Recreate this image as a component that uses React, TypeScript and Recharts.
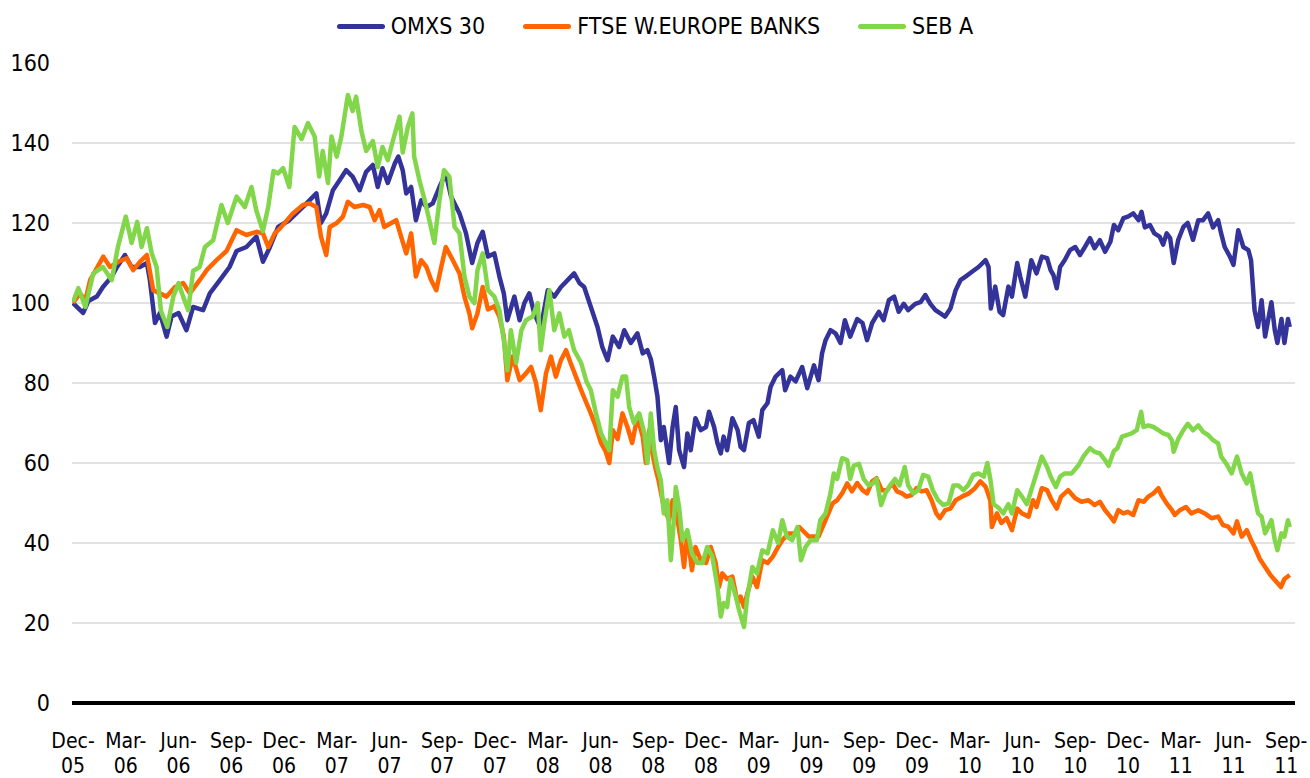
import React from 'react';
import { LineChart, Line, XAxis, YAxis, ReferenceLine } from 'recharts';

// months since Dec-05 (t) and index value (Dec-05 = 100)
const omxs30: [number, number][] = [
  [0,100],[0.57,97.5],[0.87,100.5],[1.35,101.6],[1.7,104],[2.2,106.6],[2.5,109],[2.95,112],[3.33,109],[3.8,109],[4.2,110],[4.37,105.7],[4.66,95],[4.94,97.5],[5.32,91.6],[5.6,96.6],[6.0,97.5],[6.45,93.2],[6.83,99],[7.4,98.2],[7.78,102.4],[8.35,105.7],[8.9,109],[9.3,113],[9.86,114],[10.43,116.6],[10.8,110.3],[11.2,114],[11.66,119],
  [12.3,120.7],[12.7,122.4],[13.08,124],[13.46,125.7],[13.84,127.4],[14.1,120],[14.4,122.4],[14.78,128.2],[15.16,130.7],[15.53,133.2],[15.9,131.6],[16.3,128.2],[16.67,132.8],[17.05,134.5],[17.33,129],[17.6,133.7],[17.9,130],[18.3,134.9],[18.5,136.6],[18.75,133.2],[18.95,127.4],[19.23,129],[19.5,120.7],[19.8,125.7],[20.1,124],[20.46,124.9],[20.84,129],[21.2,132.4],[21.5,126.6],[21.98,122.4],[22.35,117.4],[22.7,110],[23.0,115],
  [23.3,117.8],[23.6,111.6],[23.96,112.4],[24.25,106.6],[24.5,102.4],[24.7,95.7],[25.1,101.6],[25.4,95.7],[25.67,100],[25.95,102.4],[26.23,97.4],[26.6,93.7],[27,103.2],[27.37,101.6],[27.75,104],[28.13,105.7],[28.5,107.4],[28.8,105],[29.07,104],[29.45,99],[29.83,94],[30.1,89],[30.4,85.7],[30.7,91.6],[31.06,89],[31.35,93.2],[31.72,90],[32.1,92.4],[32.4,87.4],[32.67,88.2],[32.86,86],
  [33.05,81.6],[33.24,76.6],[33.43,65.7],[33.6,69],[33.9,60],[34.1,69],[34.28,74],[34.47,63.2],[34.75,59],[34.94,67.4],[35.13,63.2],[35.4,71.2],[35.7,68.2],[36,69],[36.17,72.8],[36.46,69],[36.65,65],[36.84,62.4],[37,66.6],[37.2,63.2],[37.5,71.2],[37.8,68.2],[37.97,64],[38.16,63.2],[38.44,70],[38.7,70.7],[39,66.6],[39.2,73.2],[39.5,75],[39.67,79],[39.96,81.6],[40.34,83.2],[40.5,78.2],[40.8,81.6],[41.1,80.4],
  [41.3,82.4],[41.47,84],[41.76,78.7],[42.14,84.4],[42.4,80.7],[42.6,87.4],[42.8,90.7],[43.08,93.2],[43.37,92.4],[43.65,90],[43.9,95.7],[44.2,91.6],[44.6,96],[44.9,95],[45.16,90.7],[45.45,95],[45.83,97.8],[46.1,95.7],[46.4,100.7],[46.7,101.6],[46.96,97.8],[47.25,99.8],[47.5,98.2],[47.9,99.8],[48.2,100.2],[48.47,102],[48.76,99.8],[49.05,98.2],[49.33,97.4],[49.6,96.6],[49.9,98.6],[50.2,103.2],[50.47,105.7],[50.76,106.6],[51.13,107.8],[51.5,109],[51.9,110.7],[52.07,109],[52.2,98.6],[52.45,104.1],[52.7,97.8],[52.9,97],[53.2,104.1],[53.4,101.6],[53.7,110],[53.87,106.6],[54.16,101.6],
  [54.5,110.7],[54.8,107.4],[55.1,111.6],[55.4,111.2],[55.6,108.2],[55.76,107],[55.95,103.7],[56.14,109],[56.4,110.7],[56.7,113.2],[57,114],[57.27,112],[57.55,114],[57.84,116.2],[58.1,113.7],[58.4,115.7],[58.7,112.8],[59,115.3],[59.2,119.5],[59.45,118.2],[59.74,121.2],[60,121.6],[60.3,122.4],[60.6,120.7],[60.77,122.8],[60.96,118.9],[61.25,119.5],[61.5,117.4],[61.8,116.6],[62,114.6],[62.2,117.4],[62.4,116.2],[62.6,110],[62.86,115.8],[63.15,119],[63.4,120],[63.7,115.8],[64,120.7],[64.27,120.7],[64.56,122.4],[64.84,118.9],[65.13,120.7],[65.3,117.4],[65.5,114],[65.8,111.6],[66,109.5],[66.27,118.2],[66.56,114],[66.85,113.2],[67,110.7],[67.2,98.2],[67.4,94],[67.6,100.7],[67.8,91.6],[67.97,95.7],[68.16,100.2],[68.35,93.2],[68.5,90],[68.73,96],[68.9,90],[69.1,96],[69.2,94],
];

const ftseWEuropeBanks: [number, number][] = [
  [0,100],[0.4,102.4],[0.7,100.6],[0.97,105.7],[1.72,111.6],[2.1,109],[2.57,110.3],[3.05,111.2],[3.42,108.2],[3.8,110.3],[4.2,112],[4.56,103.2],[4.94,102.4],[5.32,101.6],[5.8,104],[6.26,105],[6.64,102.4],[7.2,105.7],[7.6,108.2],[8.16,110.7],[8.73,113],[9.3,118.2],[9.86,117],[10.43,117.8],[10.8,117.4],[11.1,114],[11.47,117.4],[11.76,118.6],
  [12.5,122.4],[13.08,124.5],[13.46,124.9],[13.84,124],[14.1,116.6],[14.4,112],[14.6,119],[15,120],[15.35,121.6],[15.63,125.3],[16,124],[16.5,124.5],[16.87,124],[17.15,120.7],[17.43,123.2],[17.7,119],[18.1,120],[18.38,120.7],[18.66,116.6],[18.95,112.4],[19.23,117.4],[19.5,106.6],[19.8,110.7],[20.1,109],[20.37,105.7],[20.66,103.2],[20.94,109],[21.2,114],[21.6,110.7],[21.98,107.4],[22.26,101.6],[22.54,97.4],[22.7,93.7],[23,97.4],
  [23.3,104],[23.6,98.4],[23.96,99.2],[24.25,96.6],[24.5,91.6],[24.7,80.7],[25,86.6],[25.4,80.7],[25.76,82.4],[26.05,84],[26.33,80],[26.6,73.2],[26.9,82.4],[27.18,86.6],[27.46,81.6],[27.75,85.7],[28.04,88.2],[28.3,85],[28.6,81.6],[28.9,78.2],[29.2,75],[29.45,72.4],[29.74,69],[30.03,65],[30.3,62.8],[30.5,60],[30.7,68.2],[30.97,66],[31.25,72.4],[31.53,69],[31.8,65],[32.1,71.6],[32.4,66.6],[32.58,60],[32.77,68.2],[32.95,62.4],
  [33.15,58.2],[33.3,55.7],[33.6,49],[33.9,45.7],[34.1,50.7],[34.38,45.7],[34.57,40.7],[34.75,34],[34.94,42.4],[35.2,33.2],[35.4,39],[35.7,35.7],[36,35],[36.27,39],[36.55,35],[36.74,29],[36.93,32.4],[37.2,31],[37.5,31.6],[37.8,25],[37.97,26.6],[38.16,24],[38.35,27.4],[38.64,31.6],[38.9,29],[39.2,35.7],[39.5,35],[39.8,36.6],[40.1,39],[40.34,40.7],[40.7,42.4],[41.1,42.4],
  [41.3,44],[41.85,41.6],[42.4,41.6],[42.8,45.7],[43.2,49.9],[43.46,50.7],[43.74,52.4],[44.03,54.9],[44.3,52.9],[44.6,55],[44.9,53.2],[45.16,52.4],[45.45,55.4],[45.7,56.2],[46,53.2],[46.3,53.2],[46.6,54.9],[46.86,52.9],[47.15,52.4],[47.4,51.6],[47.7,52],[47.97,53.7],[48.26,52.9],[48.55,53.2],[48.83,50.7],[49.1,47.4],[49.3,46.2],[49.6,48.2],[49.9,48.6],[50.2,50.7],[50.56,51.6],[50.94,52.4],[51.3,53.7],[51.6,55.4],[51.9,54.1],[52.17,50.7],[52.26,44],[52.55,47.4],[52.8,45],[53.1,46.2],[53.4,43.2],[53.7,48.6],[53.97,47.4],[54.35,46.6],
  [54.6,50.7],[54.8,49],[55.1,53.7],[55.4,53.2],[55.66,50.7],[55.95,48.6],[56.2,51.6],[56.6,53.2],[57,51.2],[57.36,50.3],[57.75,50.7],[58.1,49.5],[58.4,50.3],[58.7,48.2],[59,46.6],[59.2,45.4],[59.45,48.2],[59.74,47.4],[60,47.8],[60.3,47],[60.6,50.7],[60.9,50.3],[61.16,51.6],[61.45,52.4],[61.73,53.7],[61.9,52],[62.2,49.9],[62.5,48.2],[62.67,47],[62.95,48.2],[63.3,49],[63.6,47.4],[64,48.2],[64.37,47.4],[64.75,46.2],[65.13,46.6],[65.4,44.5],[65.7,44.1],[66,42.4],[66.2,45.4],[66.47,41.6],[66.76,43.2],[67,40.7],[67.2,39],[67.5,36],[67.8,34],[68.1,32],[68.4,30.5],[68.7,29],[68.9,31],[69.2,32],
];

const sebA: [number, number][] = [
  [0,100.3],[0.3,103.7],[0.7,99],[1.15,107.4],[1.7,109],[2.2,105.7],[2.55,114],[3.0,121.6],[3.33,115],[3.65,120.3],[3.9,114],[4.2,118.7],[4.47,112.5],[4.75,109],[5.0,98],[5.36,94],[5.7,101.6],[6.0,105],[6.26,101.6],[6.55,98.2],[6.83,108],[7.2,109],[7.5,114],[7.97,115.7],[8.44,124.5],[8.8,120],[9.3,126.6],[9.77,124],[10.15,129],[10.43,123],[10.8,118],[11.1,124],[11.4,133],[11.66,132.4],
  [11.95,133.7],[12.3,129],[12.6,144],[13,141],[13.36,145],[13.74,141.6],[14,131.6],[14.2,138],[14.5,130],[14.7,141.6],[15,136.6],[15.26,141.6],[15.63,152],[15.9,148],[16.1,151.6],[16.4,143],[16.67,138],[17.05,140.5],[17.33,134],[17.6,139],[17.9,135.7],[18.2,140.7],[18.57,146.6],[18.75,137.6],[19.04,144],[19.3,147.4],[19.4,136.6],[19.7,130.7],[20,125.7],[20.3,120],[20.55,115],[20.84,125.7],[21.1,133.2],[21.4,131.6],[21.7,119],[21.98,117.4],[22.26,106.6],[22.54,101.6],[22.83,100],[23,108.2],
  [23.3,112.4],[23.6,103.2],[23.96,101.6],[24.25,98.2],[24.5,90.7],[24.7,83.2],[24.9,93.2],[25.2,85],[25.5,93.2],[25.76,95.7],[26.14,96.6],[26.43,100],[26.6,88.2],[26.8,94.9],[27.09,103.2],[27.37,93.2],[27.66,97.4],[27.94,91.6],[28.2,93.2],[28.5,88.2],[28.9,85],[29.2,80.4],[29.45,78.2],[29.74,72.4],[30.03,67.4],[30.3,65],[30.5,63.2],[30.7,78.2],[30.97,76.6],[31.25,81.6],[31.45,81.6],[31.63,74],[31.9,70],[32.2,72.4],[32.5,67.4],[32.67,60],[32.86,72.4],[33.05,63.2],
  [33.24,58.7],[33.43,55.7],[33.6,47.4],[33.8,50.7],[34,35.7],[34.2,47.4],[34.28,54],[34.47,49],[34.66,40.7],[34.94,43.2],[35.2,37.4],[35.5,35],[35.8,35],[36.07,39],[36.36,36.6],[36.65,29],[36.84,21.6],[37,25],[37.2,24],[37.4,31],[37.7,26.6],[37.88,23.2],[38.16,19],[38.35,26.6],[38.64,34],[38.9,32.4],[39.2,38.2],[39.5,37.4],[39.8,43.2],[40.1,40],[40.34,45.7],[40.6,41.6],[40.9,40.7],[41.2,44],[41.4,35.7],[41.66,39],[41.95,40.7],
  [42.3,40.7],[42.5,45.7],[42.8,47.4],[43.08,52.4],[43.27,57.4],[43.46,56],[43.74,61.2],[44.03,60.7],[44.2,56],[44.4,59.3],[44.7,59.8],[44.97,56],[45.25,54.4],[45.5,54.9],[45.7,56],[45.96,49.5],[46.2,52.4],[46.47,54.4],[46.75,56],[47,54.4],[47.3,59],[47.5,54.4],[47.8,52.4],[48.07,53.2],[48.35,57],[48.64,56.6],[48.9,53.2],[49.2,50.7],[49.5,49.5],[49.8,49.9],[50.07,54.4],[50.35,54.4],[50.64,53.2],[50.9,54.4],[51.2,57],[51.5,57.4],[51.8,56.6],[52,60],[52.17,56],[52.36,49.7],[52.64,48.8],[52.9,47.4],[53.2,49.7],[53.4,47.4],[53.7,53.2],[53.97,51.6],[54.25,49.7],[54.5,53.2],
  [54.8,57.4],[55.1,61.6],[55.4,59],[55.6,56.6],[55.9,54],[56.14,56.6],[56.4,57.4],[56.8,57.4],[57.2,59.5],[57.46,61.6],[57.84,63.7],[58.1,62.8],[58.4,62.4],[58.7,60.7],[58.9,59.3],[59.2,63],[59.4,63.7],[59.66,66.6],[59.94,67],[60.2,67.4],[60.5,68.2],[60.75,72.8],[60.88,69],[61.16,69.4],[61.45,69],[61.73,68.2],[62,67.4],[62.3,67],[62.5,65.7],[62.6,62.8],[62.86,66],[63.15,68.2],[63.4,69.8],[63.7,68.2],[64,69.4],[64.27,67.8],[64.56,67],[64.84,65.7],[65.13,64.9],[65.3,61.6],[65.6,59.8],[65.9,57.4],[66.2,61.6],[66.47,57.4],[66.76,54.9],[66.95,57.4],[67.2,51.6],[67.4,47.4],[67.6,46.6],[67.8,42.4],[67.97,44],[68.16,45.7],[68.35,40.7],[68.5,38.2],[68.73,42.4],[68.9,41.6],[69.1,45.7],[69.2,44],
];

const quarterTicks = [0,3,6,9,12,15,18,21,24,27,30,33,36,39,42,45,48,51,54,57,60,63,66,69];
const quarterLabels = ['Dec-05','Mar-06','Jun-06','Sep-06','Dec-06','Mar-07','Jun-07','Sep-07','Dec-07','Mar-08','Jun-08','Sep-08','Dec-08','Mar-09','Jun-09','Sep-09','Dec-09','Mar-10','Jun-10','Sep-10','Dec-10','Mar-11','Jun-11','Sep-11'];
const yTicks = [0,20,40,60,80,100,120,140,160];
const gridValues = [20,40,60,80,100,120,140];

const seriesNames = ['OMXS 30', 'FTSE W.EUROPE BANKS', 'SEB A'];
const seriesColors = ['#333399', '#FF6600', '#82D64A'];
const seriesValues = [omxs30, ftseWEuropeBanks, sebA];

const FONT = '"Liberation Sans Narrow", "DejaVu Sans Condensed", "Liberation Sans", sans-serif';

const toRows = (pairs: [number, number][]) => pairs.map(([t, v]) => ({ t, v }));

const XTick = (props: any) => {
  const { x, y, payload } = props;
  const idx = quarterTicks.indexOf(payload.value);
  const label = idx >= 0 ? quarterLabels[idx] : '';
  const [m, yy] = label.split('-');
  return (
    <text textAnchor="middle" fontFamily={FONT} fontSize={21} fill="#000">
      <tspan x={x} y={y + 45}>{m}-</tspan>
      <tspan x={x} y={y + 70}>{yy}</tspan>
    </text>
  );
};

const YTick = (props: any) => {
  const { x, y, payload } = props;
  return (
    <text x={x} y={y} dy="0.36em" textAnchor="end" fontFamily={FONT} fontSize={23} fill="#000">
      {payload.value}
    </text>
  );
};

export default function App() {
  return (
    <div style={{ position: 'absolute', left: 0, top: 0, width: 1310, height: 778, background: '#fff' }}>
      <div
        style={{
          position: 'absolute', left: 0, top: 0, width: 1310, height: 52,
          display: 'flex', justifyContent: 'center', alignItems: 'center', gap: 38,
          fontFamily: FONT, fontSize: 23, color: '#000',
        }}
      >
        {seriesNames.map((n, i) => (
          <div key={n} style={{ display: 'flex', alignItems: 'center' }}>
            <div style={{ width: 48, height: 5, borderRadius: 2.5, background: seriesColors[i], marginRight: 6 }} />
            <span style={{ lineHeight: '28px' }}>{n}</span>
          </div>
        ))}
      </div>
      <LineChart width={1310} height={778} margin={{ top: 63, right: 15, bottom: 0, left: 0 }}>
        {gridValues.map((g) => (
          <ReferenceLine key={g} y={g} stroke="#D9D9D9" strokeWidth={1.5} />
        ))}
        <XAxis
          dataKey="t"
          type="number"
          domain={[-0.06, 69.5]}
          ticks={quarterTicks}
          interval={0}
          allowDataOverflow
          axisLine={false}
          tickLine={false}
          tickSize={0}
          tickMargin={0}
          height={75}
          tick={<XTick />}
        />
        <YAxis
          type="number"
          domain={[0, 160]}
          ticks={yTicks}
          interval={0}
          axisLine={false}
          tickLine={false}
          tickSize={0}
          tickMargin={22}
          width={72}
          tick={<YTick />}
        />
        <ReferenceLine y={0} stroke="#000" strokeWidth={4} />
        {seriesValues.map((s, i) => (
          <Line
            key={seriesNames[i]}
            data={toRows(s)}
            dataKey="v"
            name={seriesNames[i]}
            type="linear"
            dot={false}
            activeDot={false}
            stroke={seriesColors[i]}
            strokeWidth={4.5}
            strokeLinejoin="round"
            isAnimationActive={false}
          />
        ))}
      </LineChart>
    </div>
  );
}
